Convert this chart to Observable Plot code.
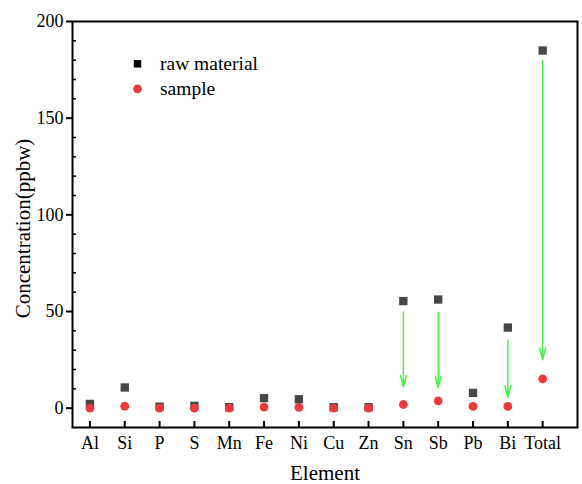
<!DOCTYPE html>
<html><head><meta charset="utf-8">
<script src="https://cdn.jsdelivr.net/npm/d3@7"></script>
<script src="https://cdn.jsdelivr.net/npm/@observablehq/plot@0.6"></script>
<style>
html,body{margin:0;padding:0;background:#fff;}
#chart svg, #chart svg text { font-family: "Liberation Serif", "Times New Roman", Times, serif !important; }
</style>
</head><body><div id="chart"></div>
<script>
const elements = ["Al","Si","P","S","Mn","Fe","Ni","Cu","Zn","Sn","Sb","Pb","Bi","Total"];
const rawMaterial = [2.2, 10.7, 0.8, 1.2, 0.5, 5.2, 4.6, 0.5, 0.5, 55.4, 56.2, 7.9, 41.7, 185];
const sample = [0, 1.0, 0, 0, 0, 0.5, 0.4, 0, 0, 1.9, 3.8, 0.9, 0.9, 15.2];
const arrowElements = ["Sn","Sb","Bi","Total"];
const arrowStart = [49.6, 49.6, 35.3, 180];
const arrowEnd = [10.9, 10.5, 5.6, 25];
const yTicks = [0, 50, 100, 150, 200];
const yMinorTicks = [10,20,30,40,60,70,80,90,110,120,130,140,160,170,180,190];
const legendLabels = ["raw material", "sample"];

const idx = elements.map((_, i) => i);
const rawData = elements.map((e, i) => ({i, v: rawMaterial[i]}));
const sampleData = elements.map((e, i) => ({i, v: sample[i]}));
const arrows = arrowElements.map((e, k) => ({i: elements.indexOf(e), from: arrowStart[k], to: arrowEnd[k]}));

const serif = "Liberation Serif";
const chart = Plot.plot({
  width: 582, height: 484,
  marginLeft: 72, marginRight: 5, marginTop: 21, marginBottom: 57,
  style: {fontFamily: serif, fontSize: "18px", background: "#fff", color: "#000"},
  x: {domain: [-0.5, 14.0]},
  y: {domain: [-10, 200]},
  marks: [
    Plot.axisX({ticks: idx, tickFormat: i => elements[i], tickSize: 0, tickPadding: 9, label: null, fontSize: 18}),
    Plot.tickX(idx, {x: d => d, insetTop: 400, strokeWidth: 2}),
    Plot.axisY({ticks: yTicks, tickSize: 6, tickPadding: 3, strokeWidth: 2, label: null, fontSize: 18}),
    Plot.tickY(yMinorTicks, {y: d => d, insetRight: 501, strokeWidth: 1.5}),
    Plot.frame({strokeWidth: 2}),
    Plot.dot(rawData, {x: "i", y: "v", symbol: "square", r: 4.7, fill: "#474747"}),
    Plot.dot(sampleData, {x: "i", y: "v", symbol: "circle", r: 4.4, fill: "#ee3a3a"}),
    Plot.arrow(arrows, {x: "i", y1: "from", y2: "to", stroke: "#4def4d", strokeWidth: 1.5, headAngle: 28, headLength: 12}),
    Plot.dot([legendLabels[0]], {frameAnchor: "top-left", dx: 65, dy: 42.3, symbol: "square", r: 4.2, fill: "#000"}),
    Plot.dot([legendLabels[1]], {frameAnchor: "top-left", dx: 65, dy: 67.3, symbol: "circle", r: 4.4, fill: "#ee3a3a"}),
    Plot.text([legendLabels[0]], {frameAnchor: "top-left", dx: 87.5, dy: 42.3, text: d => d, textAnchor: "start", lineAnchor: "middle", fontSize: 19.5}),
    Plot.text([legendLabels[1]], {frameAnchor: "top-left", dx: 87.5, dy: 67.3, text: d => d, textAnchor: "start", lineAnchor: "middle", fontSize: 19.5}),
    Plot.text(["Concentration(ppbw)"], {frameAnchor: "left", dx: -49, dy: 4, rotate: -90, text: d => d, textAnchor: "middle", lineAnchor: "middle", fontSize: 21}),
    Plot.text(["Element"], {frameAnchor: "bottom", dy: 46, text: d => d, textAnchor: "middle", lineAnchor: "middle", fontSize: 21})
  ]
});
document.getElementById("chart").appendChild(chart);
</script>
</body></html>
